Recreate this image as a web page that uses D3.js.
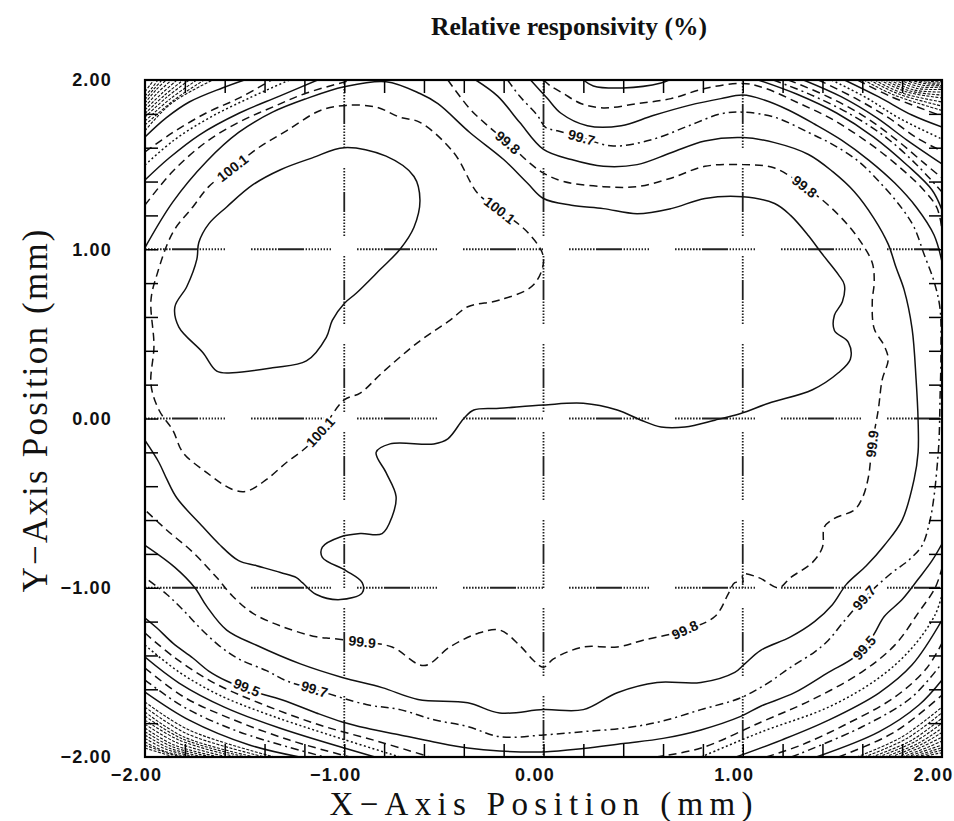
<!DOCTYPE html>
<html>
<head>
<meta charset="utf-8">
<script src="https://cdn.jsdelivr.net/npm/d3@7"></script>
<style>
body { margin: 0; background: #fff; }
</style>
</head>
<body>
<div id="chart"></div>
<script>
// Relative responsivity map, contours (mm, mm)

const xDomain = [-2, 2]
const yDomain = [-2, 2]
const tickValues = [-2, -1, 0, 1, 2]
const gridValues = [-1, 0, 1]
const minorTicks = [-1.8, -1.6, -1.4, -1.2, -1.0, -0.8, -0.6, -0.4, -0.2, 0, 0.2, 0.4, 0.6, 0.8, 1.0, 1.2, 1.4, 1.6, 1.8]

// closed loops
const loop100_2 = [[-1.00,1.60],[-0.79,1.55],[-0.65,1.43],[-0.62,1.29],[-0.65,1.13],[-0.72,1.00],[-0.82,0.88],[-0.94,0.74],[-1.00,0.68],[-1.06,0.58],[-1.09,0.48],[-1.19,0.34],[-1.36,0.30],[-1.56,0.27],[-1.64,0.28],[-1.71,0.39],[-1.83,0.54],[-1.85,0.66],[-1.79,0.78],[-1.74,0.94],[-1.73,1.04],[-1.68,1.15],[-1.59,1.25],[-1.46,1.38],[-1.32,1.47],[-1.16,1.54]]
const loop100_1 = [[-0.62,1.75],[-0.45,1.57],[-0.33,1.33],[-0.22,1.23],[-0.08,1.10],[0.00,0.95],[-0.05,0.79],[-0.22,0.70],[-0.38,0.66],[-0.47,0.58],[-0.63,0.45],[-0.81,0.27],[-0.92,0.15],[-1.00,0.11],[-1.12,-0.08],[-1.19,-0.17],[-1.29,-0.26],[-1.39,-0.36],[-1.49,-0.43],[-1.56,-0.42],[-1.69,-0.32],[-1.81,-0.20],[-1.86,-0.07],[-1.93,0.05],[-1.97,0.20],[-1.955,0.43],[-1.97,0.70],[-1.94,0.85],[-1.86,1.10],[-1.76,1.25],[-1.68,1.37],[-1.56,1.48],[-1.43,1.60],[-1.29,1.70],[-1.12,1.82],[-0.99,1.85],[-0.84,1.84],[-0.72,1.78]]

// open lines, edge to edge
const line100_0 = [[-2.00,1.01],[-1.86,1.28],[-1.69,1.52],[-1.53,1.69],[-1.36,1.81],[-1.19,1.89],[-1.00,1.96],[-0.79,1.99],[-0.62,1.92],[-0.53,1.86],[-0.37,1.69],[-0.20,1.53],[-0.08,1.39],[0.00,1.30],[0.14,1.26],[0.30,1.24],[0.47,1.21],[0.64,1.24],[0.81,1.30],[1.00,1.31],[1.16,1.27],[1.24,1.20],[1.33,1.08],[1.40,0.97],[1.48,0.85],[1.51,0.79],[1.50,0.69],[1.46,0.61],[1.46,0.52],[1.53,0.45],[1.54,0.35],[1.48,0.27],[1.35,0.17],[1.13,0.09],[0.99,0.03],[0.86,-0.01],[0.71,-0.05],[0.59,-0.05],[0.49,-0.01],[0.37,0.05],[0.20,0.09],[0.00,0.08],[-0.22,0.06],[-0.35,0.05],[-0.40,0.00],[-0.48,-0.12],[-0.55,-0.15],[-0.77,-0.15],[-0.84,-0.20],[-0.79,-0.32],[-0.74,-0.46],[-0.76,-0.58],[-0.81,-0.68],[-0.92,-0.68],[-1.02,-0.70],[-1.11,-0.76],[-1.11,-0.82],[-0.99,-0.90],[-0.91,-0.97],[-0.91,-1.03],[-1.02,-1.07],[-1.14,-1.04],[-1.21,-0.97],[-1.24,-0.94],[-1.32,-0.91],[-1.44,-0.87],[-1.53,-0.84],[-1.63,-0.74],[-1.71,-0.64],[-1.84,-0.47],[-1.89,-0.36],[-1.93,-0.26],[-2.00,-0.13]]
const line99_9 = [[-0.48,2.00],[-0.37,1.83],[-0.28,1.73],[-0.18,1.63],[-0.07,1.51],[0.00,1.45],[0.10,1.40],[0.30,1.37],[0.47,1.37],[0.64,1.42],[0.81,1.49],[1.00,1.50],[1.16,1.48],[1.31,1.37],[1.43,1.26],[1.53,1.14],[1.60,1.03],[1.65,0.92],[1.66,0.81],[1.65,0.69],[1.66,0.53],[1.71,0.43],[1.73,0.35],[1.70,0.23],[1.68,0.05],[1.65,-0.15],[1.63,-0.35],[1.60,-0.47],[1.56,-0.54],[1.46,-0.59],[1.41,-0.64],[1.40,-0.76],[1.35,-0.85],[1.24,-0.94],[1.18,-1.00],[1.08,-0.94],[1.00,-0.92],[1.00,-0.97],[0.96,-0.97],[0.93,-1.03],[0.86,-1.17],[0.71,-1.25],[0.50,-1.31],[0.37,-1.35],[0.20,-1.35],[0.05,-1.42],[0.00,-1.47],[-0.05,-1.43],[-0.12,-1.34],[-0.22,-1.25],[-0.33,-1.27],[-0.47,-1.35],[-0.60,-1.46],[-0.76,-1.35],[-0.91,-1.32],[-1.06,-1.30],[-1.14,-1.29],[-1.31,-1.23],[-1.46,-1.15],[-1.56,-1.05],[-1.64,-0.94],[-1.76,-0.79],[-1.89,-0.66],[-2.00,-0.54]]
const line99_8 = [[-0.34,2.00],[-0.23,1.905],[-0.12,1.75],[0.00,1.59],[0.14,1.53],[0.30,1.49],[0.47,1.50],[0.64,1.57],[0.81,1.64],[1.00,1.66],[1.16,1.63],[1.33,1.56],[1.45,1.46],[1.56,1.34],[1.66,1.18],[1.73,1.03],[1.77,0.89],[1.81,0.76],[1.85,0.53],[1.87,0.23],[1.88,-0.01],[1.88,-0.20],[1.86,-0.36],[1.80,-0.60],[1.71,-0.75],[1.62,-0.87],[1.52,-0.98],[1.45,-1.10],[1.36,-1.20],[1.24,-1.29],[1.09,-1.37],[1.01,-1.45],[0.96,-1.50],[0.79,-1.56],[0.57,-1.56],[0.37,-1.62],[0.20,-1.72],[0.00,-1.72],[-0.22,-1.74],[-0.38,-1.68],[-0.63,-1.66],[-0.81,-1.59],[-1.01,-1.53],[-1.22,-1.45],[-1.44,-1.34],[-1.59,-1.25],[-1.69,-1.11],[-1.75,-1.00],[-1.85,-0.88],[-2.00,-0.75]]
const line99_7 = [[-0.18,2.00],[-0.12,1.905],[-0.03,1.79],[0.01,1.72],[0.07,1.70],[0.19,1.66],[0.35,1.61],[0.55,1.65],[0.73,1.73],[0.89,1.80],[1.00,1.81],[1.16,1.78],[1.33,1.69],[1.45,1.62],[1.58,1.52],[1.70,1.38],[1.80,1.24],[1.86,1.13],[1.91,0.97],[1.96,0.81],[1.99,0.65],[1.995,0.40],[1.99,0.11],[1.985,-0.13],[1.975,-0.29],[1.96,-0.46],[1.94,-0.60],[1.90,-0.75],[1.83,-0.84],[1.75,-0.91],[1.61,-1.06],[1.50,-1.21],[1.43,-1.31],[1.36,-1.38],[1.24,-1.47],[1.13,-1.56],[0.99,-1.65],[0.79,-1.72],[0.59,-1.79],[0.40,-1.83],[0.20,-1.85],[0.00,-1.87],[-0.22,-1.88],[-0.38,-1.82],[-0.55,-1.78],[-0.72,-1.72],[-0.89,-1.69],[-1.15,-1.60],[-1.29,-1.55],[-1.39,-1.49],[-1.53,-1.42],[-1.63,-1.34],[-1.73,-1.23],[-1.81,-1.13],[-1.89,-1.04],[-2.00,-0.94]]
const line99_6top = [[-0.065,2.00],[0.02,1.89],[0.086,1.805],[0.22,1.73],[0.39,1.73],[0.55,1.79],[0.73,1.85],[0.89,1.89],[1.00,1.911],[1.108,1.882],[1.229,1.823],[1.36,1.74],[1.496,1.645],[1.632,1.527],[1.763,1.391],[1.874,1.244],[1.96,1.084],[2.00,0.925]]
const line99_6bottom = [[2.00,-0.74],[1.95,-0.84],[1.88,-0.95],[1.80,-1.07],[1.71,-1.17],[1.65,-1.29],[1.56,-1.41],[1.43,-1.50],[1.26,-1.62],[1.09,-1.70],[0.99,-1.76],[0.79,-1.84],[0.60,-1.89],[0.40,-1.92],[0.20,-1.95],[0.00,-1.97],[-0.22,-1.965],[-0.38,-1.947],[-0.55,-1.911],[-0.72,-1.87],[-0.89,-1.829],[-1.01,-1.793],[-1.14,-1.74],[-1.31,-1.663],[-1.48,-1.604],[-1.59,-1.551],[-1.68,-1.492],[-1.76,-1.415],[-1.86,-1.327],[-1.94,-1.238],[-2.00,-1.179]]
const line99_5top = [[0.00,2.00],[0.035,1.965],[0.10,1.92],[0.19,1.86],[0.30,1.835],[0.47,1.86],[0.64,1.89],[0.81,1.95],[1.00,1.98],[1.108,1.953],[1.28,1.864],[1.446,1.77],[1.612,1.645],[1.763,1.509],[1.899,1.362],[1.975,1.244],[2.00,1.114]]
const arc99_4top = [[0.20,2.00],[0.25,1.965],[0.40,1.953],[0.59,1.982],[0.63,2.00]]

// top-right corner
const tr1 = [[1.078,2.0],[1.27,1.917],[1.471,1.805],[1.657,1.663],[1.824,1.498],[1.95,1.35],[2.0,1.232]]
const tr2 = [[1.154,2.0],[1.345,1.911],[1.547,1.793],[1.723,1.657],[1.874,1.498],[2.0,1.338]]
const tr3 = [[1.229,2.0],[1.421,1.905],[1.607,1.787],[1.773,1.645],[1.909,1.51],[2.0,1.421]]
const tr4 = [[1.305,2.0],[1.496,1.9],[1.673,1.776],[1.824,1.645],[2.0,1.504]]
const tr5 = [[1.38,2.0],[1.562,1.894],[1.733,1.776],[1.874,1.657],[2.0,1.58]]
const tr6 = [[1.446,2.0],[1.622,1.894],[1.783,1.776],[2.0,1.651]]
const tr7 = [[1.511,2.0],[1.683,1.9],[1.849,1.793],[2.0,1.722]]
const tr8 = [[1.577,2.0],[1.738,1.905],[2.0,1.787]]
const trHatch = [
  [[1.607,2.0],[1.76,1.911],[2.0,1.82]],
  [[1.637,2.0],[1.783,1.917],[2.0,1.846]],
  [[1.662,2.0],[1.80,1.923],[2.0,1.87]],
  [[1.688,2.0],[1.824,1.929],[2.0,1.894]],
  [[1.713,2.0],[1.84,1.935],[2.0,1.911]],
  [[1.738,2.0],[1.859,1.941],[2.0,1.929]],
  [[1.763,2.0],[1.876,1.95],[2.0,1.945]],
  [[1.788,2.0],[1.894,1.959],[2.0,1.959]],
  [[1.814,2.0],[1.91,1.968],[2.0,1.968]],
  [[1.839,2.0],[1.93,1.976],[2.0,1.976]],
  [[1.864,2.0],[1.95,1.982],[2.0,1.985]],
  [[1.90,2.0],[1.96,1.99],[2.0,1.99]]
]

// top-left corner
const ul1 = [[-2.0,1.261],[-1.864,1.456],[-1.693,1.634],[-1.526,1.752],[-1.36,1.84],[-1.189,1.923],[-0.962,2.0]]
const ul2 = [[-2.0,1.409],[-1.879,1.539],[-1.728,1.675],[-1.526,1.805],[-1.325,1.905],[-1.134,2.0]]
const ul3 = [[-2.0,1.498],[-1.854,1.645],[-1.678,1.776],[-1.476,1.894],[-1.275,2.0]]
const ul4 = [[-2.0,1.575],[-1.864,1.687],[-1.693,1.805],[-1.526,1.894],[-1.365,2.0]]
const ul5 = [[-2.0,1.663],[-1.894,1.776],[-1.778,1.87],[-1.612,1.953],[-1.501,2.0]]
const ulHatch = [
  [[-2.0,1.70],[-1.87,1.86],[-1.66,2.0]],
  [[-2.0,1.734],[-1.854,1.882],[-1.703,2.0]],
  [[-2.0,1.757],[-1.872,1.89],[-1.74,2.0]],
  [[-2.0,1.781],[-1.889,1.9],[-1.778,2.0]],
  [[-2.0,1.802],[-1.904,1.908],[-1.808,2.0]],
  [[-2.0,1.823],[-1.919,1.917],[-1.839,2.0]],
  [[-2.0,1.844],[-1.932,1.93],[-1.866,2.0]],
  [[-2.0,1.864],[-1.945,1.941],[-1.894,2.0]],
  [[-2.0,1.885],[-1.955,1.947],[-1.915,2.0]],
  [[-2.0,1.905],[-1.965,1.953],[-1.935,2.0]],
  [[-2.0,1.93],[-1.975,1.97],[-1.955,2.0]]
]

// bottom-left corner
const bl1 = [[-2.0,-1.268],[-1.854,-1.41],[-1.652,-1.563],[-1.426,-1.681],[-1.123,-1.811],[-0.821,-1.911],[-0.569,-2.0]]
const bl2 = [[-2.0,-1.339],[-1.829,-1.498],[-1.627,-1.634],[-1.375,-1.752],[-1.073,-1.87],[-0.72,-2.0]]
const bl3 = [[-2.0,-1.41],[-1.829,-1.563],[-1.602,-1.705],[-1.325,-1.829],[-0.846,-2.0]]
const bl4 = [[-2.0,-1.474],[-1.804,-1.646],[-1.577,-1.77],[-1.275,-1.9],[-0.972,-2.0]]
const bl5 = [[-2.0,-1.545],[-1.804,-1.705],[-1.526,-1.852],[-1.098,-2.0]]
const bl6 = [[-2.0,-1.616],[-1.778,-1.782],[-1.476,-1.929],[-1.224,-2.0]]
const blHatch = [
  [[-2.0,-1.675],[-1.778,-1.841],[-1.35,-2.0]],
  [[-2.0,-1.705],[-1.79,-1.862],[-1.40,-2.0]],
  [[-2.0,-1.734],[-1.804,-1.882],[-1.451,-2.0]],
  [[-2.0,-1.758],[-1.816,-1.891],[-1.497,-2.0]],
  [[-2.0,-1.782],[-1.829,-1.9],[-1.542,-2.0]],
  [[-2.0,-1.806],[-1.841,-1.915],[-1.585,-2.0]],
  [[-2.0,-1.829],[-1.854,-1.929],[-1.627,-2.0]],
  [[-2.0,-1.85],[-1.866,-1.938],[-1.665,-2.0]],
  [[-2.0,-1.87],[-1.879,-1.947],[-1.703,-2.0]],
  [[-2.0,-1.89],[-1.89,-1.956],[-1.74,-2.0]],
  [[-2.0,-1.911],[-1.904,-1.965],[-1.778,-2.0]],
  [[-2.0,-1.93],[-1.88,-1.98],[-1.815,-2.0]],
  [[-2.0,-1.947],[-1.854,-2.0]]
]

// bottom-right corner
const br1 = [[0.564,-2.0],[0.791,-1.947],[1.093,-1.793],[1.345,-1.663],[1.597,-1.498],[1.763,-1.339],[1.884,-1.143],[1.965,-1.002],[2.0,-0.884]]
const br2 = [[0.791,-2.0],[1.093,-1.852],[1.431,-1.705],[1.683,-1.533],[1.849,-1.356],[1.965,-1.161],[2.0,-1.043]]
const br3 = [[0.967,-2.0],[1.194,-1.9],[1.431,-1.782],[1.683,-1.622],[1.849,-1.457],[2.0,-1.191]]
const br4 = [[1.118,-2.0],[1.295,-1.929],[1.511,-1.811],[1.763,-1.646],[1.924,-1.474],[2.0,-1.327]]
const br5 = [[1.244,-2.0],[1.597,-1.823],[1.849,-1.646],[2.0,-1.445]]
const br6 = [[1.37,-2.0],[1.683,-1.852],[1.884,-1.693],[2.0,-1.545]]
const br7 = [[1.481,-2.0],[1.763,-1.852],[2.0,-1.634]]
const brHatch = [
  [[1.572,-2.0],[1.798,-1.882],[2.0,-1.705]],
  [[1.61,-2.0],[1.823,-1.891],[2.0,-1.738]],
  [[1.647,-2.0],[1.849,-1.9],[2.0,-1.77]],
  [[1.68,-2.0],[1.866,-1.908],[2.0,-1.80]],
  [[1.713,-2.0],[1.884,-1.917],[2.0,-1.829]],
  [[1.743,-2.0],[1.896,-1.926],[2.0,-1.855]],
  [[1.773,-2.0],[1.909,-1.935],[2.0,-1.882]],
  [[1.80,-2.0],[1.925,-1.944],[2.0,-1.905]],
  [[1.824,-2.0],[1.94,-1.953],[2.0,-1.929]],
  [[1.85,-2.0],[1.952,-1.962],[2.0,-1.945]],
  [[1.874,-2.0],[1.965,-1.97],[2.0,-1.959]],
  [[1.90,-2.0],[1.975,-1.98],[2.0,-1.975]]
]

// labels as printed, with the level of the line they sit on
const labelText = ['100.1', '100.1', '100.1', '99.8', '99.7', '99.8', '99.9', '99.8', '99.9', '99.7', '99.5', '99.5', '99.7']
const labelAt = [[-1.56,1.48],[-0.22,1.23],[-1.12,-0.08],[-0.18,1.63],[0.19,1.66],[1.31,1.37],[1.65,-0.15],[0.71,-1.25],[-0.91,-1.32],[1.61,-1.06],[1.61,-1.355],[-1.49,-1.59],[-1.15,-1.60]]
const labelLevel = [100.1, 100.1, 100.1, 99.9, 99.7, 99.9, 99.9, 99.9, 99.9, 99.7, 99.6, 99.6, 99.7]


const W = 954, H = 821
const pLeft = 145, pRight = 942, pTop = 80, pBottom = 757

const x = d3.scaleLinear().domain(xDomain).range([pLeft, pRight])
const y = d3.scaleLinear().domain(yDomain).range([pBottom, pTop])

const dashes = { solid: null, dashed: '8,5', dashdot: '8,4,2,4', dotted: '2,2.5', hatch: '3,1.5' }

const contours = [
	{ level: 100.2, pts: loop100_2, closed: true, kind: 'solid' },
	{ level: 100.1, pts: loop100_1, closed: true, kind: 'dashed' },
	{ level: 100.0, pts: line100_0, kind: 'solid' },
	{ level: 99.9, pts: line99_9, kind: 'dashed' },
	{ level: 99.8, pts: line99_8, kind: 'solid' },
	{ level: 99.7, pts: line99_7, kind: 'dashdot' },
	{ level: 99.6, pts: line99_6top, kind: 'solid' },
	{ level: 99.6, pts: line99_6bottom, kind: 'solid' },
	{ level: 99.5, pts: line99_5top, kind: 'dashed' },
	{ level: 99.4, pts: arc99_4top, kind: 'solid' },
	{ level: 99.4, pts: tr1, kind: 'solid' },
	{ level: 99.3, pts: tr2, kind: 'dashdot' },
	{ level: 99.2, pts: tr3, kind: 'dashed' },
	{ level: 99.1, pts: tr4, kind: 'solid' },
	{ level: 99.0, pts: tr5, kind: 'dashed' },
	{ level: 98.9, pts: tr6, kind: 'dotted' },
	{ level: 98.8, pts: tr7, kind: 'solid' },
	{ level: 98.7, pts: tr8, kind: 'dashed' },
	{ level: 99.9, pts: ul1, kind: 'dashed' },
	{ level: 99.8, pts: ul2, kind: 'solid' },
	{ level: 99.7, pts: ul3, kind: 'dotted' },
	{ level: 99.6, pts: ul4, kind: 'dashed' },
	{ level: 99.5, pts: ul5, kind: 'solid' },
	{ level: 99.5, pts: bl1, kind: 'dashed' },
	{ level: 99.4, pts: bl2, kind: 'dotted' },
	{ level: 99.3, pts: bl3, kind: 'solid' },
	{ level: 99.2, pts: bl4, kind: 'dashed' },
	{ level: 99.1, pts: bl5, kind: 'dashdot' },
	{ level: 99.0, pts: bl6, kind: 'solid' },
	{ level: 99.5, pts: br1, kind: 'dashed' },
	{ level: 99.4, pts: br2, kind: 'dotted' },
	{ level: 99.3, pts: br3, kind: 'solid' },
	{ level: 99.2, pts: br4, kind: 'dashed' },
	{ level: 99.1, pts: br5, kind: 'dashdot' },
	{ level: 99.0, pts: br6, kind: 'solid' },
	{ level: 98.9, pts: br7, kind: 'dashed' }
]
trHatch.concat(ulHatch, blHatch, brHatch).forEach(pts => contours.push({ level: null, pts: pts, kind: 'hatch' }))

const svg = d3.select('#chart')
	.append('svg')
	.attr('width', W)
	.attr('height', H)
	.style('font-family', '"Liberation Sans", Arial, sans-serif')

svg.append('rect').attr('width', W).attr('height', H).attr('fill', '#fff')

svg.append('clipPath').attr('id', 'plotclip')
	.append('rect')
	.attr('x', pLeft).attr('y', pTop)
	.attr('width', pRight - pLeft).attr('height', pBottom - pTop)

// dotted-dash reference grid, like the plotter's
const dotRun = n => d3.range(n).map(() => '1.6,1.4').join(',')
const grid = svg.append('g').attr('stroke', '#222').attr('stroke-width', 1.8).attr('fill', 'none')
grid.selectAll('line.gx')
	.data(gridValues)
	.enter()
	.append('line')
	.attr('class', 'gx')
	.attr('x1', d => x(d)).attr('x2', d => x(d))
	.attr('y1', pTop).attr('y2', pBottom)
	.attr('stroke-dasharray', dotRun(8) + ',20')
grid.selectAll('line.gy')
	.data(gridValues)
	.enter()
	.append('line')
	.attr('class', 'gy')
	.attr('y1', d => y(d)).attr('y2', d => y(d))
	.attr('x1', pLeft).attr('x2', pRight)
	.attr('stroke-dasharray', dotRun(9) + ',26')

// contour lines
const openLine = d3.line().x(d => x(d[0])).y(d => y(d[1])).curve(d3.curveCatmullRom.alpha(0.5))
const closedLine = d3.line().x(d => x(d[0])).y(d => y(d[1])).curve(d3.curveCatmullRomClosed.alpha(0.5))

svg.append('g')
	.attr('clip-path', 'url(#plotclip)')
	.selectAll('path')
	.data(contours)
	.enter()
	.append('path')
	.attr('d', d => d.closed ? closedLine(d.pts) : openLine(d.pts))
	.attr('fill', 'none')
	.attr('stroke', '#111')
	.attr('stroke-width', d => d.kind === 'hatch' ? 1.1 : 1.5)
	.attr('stroke-dasharray', d => dashes[d.kind])

// label angle follows the nearest segment of its line
const labelAngle = (p, level) => {
	let best = Infinity, ang = 0
	contours.filter(c => c.level === level).forEach(c => {
		const pts = c.closed ? c.pts.concat([c.pts[0]]) : c.pts
		for (let i = 0; i < pts.length - 1; i++) {
			const ax = x(pts[i][0]), ay = y(pts[i][1])
			const bx = x(pts[i + 1][0]), by = y(pts[i + 1][1])
			const mx = (ax + bx) / 2, my = (ay + by) / 2
			const dd = (mx - x(p[0])) ** 2 + (my - y(p[1])) ** 2
			if (dd < best) { best = dd; ang = Math.atan2(by - ay, bx - ax) * 180 / Math.PI }
		}
	})
	if (ang > 90) ang -= 180
	if (ang <= -90) ang += 180
	return ang
}

svg.append('g')
	.selectAll('text')
	.data(labelText)
	.enter()
	.append('text')
	.attr('transform', (t, i) => `translate(${x(labelAt[i][0])},${y(labelAt[i][1])}) rotate(${labelAngle(labelAt[i], labelLevel[i])})`)
	.attr('text-anchor', 'middle')
	.attr('dy', '0.35em')
	.attr('font-size', 14)
	.attr('font-weight', 'bold')
	.attr('fill', '#111')
	.attr('stroke', '#fff')
	.attr('stroke-width', 5)
	.attr('paint-order', 'stroke')
	.text(t => t)

// frame and inward ticks
svg.append('rect')
	.attr('x', pLeft).attr('y', pTop)
	.attr('width', pRight - pLeft).attr('height', pBottom - pTop)
	.attr('fill', 'none').attr('stroke', '#000').attr('stroke-width', 2.2)

const tickLen = 13
const tickAxes = [
	[d3.axisBottom(x), `translate(0,${pTop})`],
	[d3.axisTop(x), `translate(0,${pBottom})`],
	[d3.axisRight(y), `translate(${pLeft},0)`],
	[d3.axisLeft(y), `translate(${pRight},0)`]
]
tickAxes.forEach(([ax, tr]) => {
	const g = svg.append('g').attr('transform', tr)
		.call(ax.tickValues(minorTicks).tickSize(tickLen).tickFormat(''))
	g.select('.domain').remove()
	g.selectAll('line').attr('stroke', '#000').attr('stroke-width', 1.5)
})

const fmt = d3.format('.2f')
const xLab = svg.append('g').attr('transform', `translate(-9,${pBottom})`)
	.call(d3.axisBottom(x).tickValues(tickValues).tickSize(0).tickPadding(11).tickFormat(fmt))
const yLab = svg.append('g').attr('transform', `translate(${pLeft},0)`)
	.call(d3.axisLeft(y).tickValues(tickValues).tickSize(0).tickPadding(33).tickFormat(fmt))
;[xLab, yLab].forEach(g => {
	g.select('.domain').remove()
	g.selectAll('text')
		.attr('font-family', '"Liberation Sans", Arial, sans-serif')
		.attr('font-size', 18)
		.attr('font-weight', 'bold')
		.attr('letter-spacing', '1.2px')
		.attr('fill', '#111')
})

// titles
svg.append('text')
	.attr('x', 569).attr('y', 35)
	.attr('text-anchor', 'middle')
	.attr('font-family', '"Liberation Serif", "Times New Roman", serif')
	.attr('font-weight', 'bold')
	.attr('font-size', 25)
	.attr('textLength', 276)
	.attr('lengthAdjust', 'spacingAndGlyphs')
	.attr('fill', '#111')
	.text('Relative responsivity (%)')

svg.append('text')
	.attr('x', 541).attr('y', 815)
	.attr('text-anchor', 'middle')
	.attr('font-family', '"Liberation Serif", "Times New Roman", serif')
	.attr('font-size', 33)
	.attr('textLength', 423)
	.attr('lengthAdjust', 'spacing')
	.attr('fill', '#111')
	.text('X\u2212Axis Position (mm)')

svg.append('text')
	.attr('transform', 'translate(47,411) rotate(-90)')
	.attr('text-anchor', 'middle')
	.attr('font-family', '"Liberation Serif", "Times New Roman", serif')
	.attr('font-size', 35)
	.attr('textLength', 363)
	.attr('lengthAdjust', 'spacing')
	.attr('fill', '#111')
	.text('Y\u2212Axis Position (mm)')
</script>
</body>
</html>
